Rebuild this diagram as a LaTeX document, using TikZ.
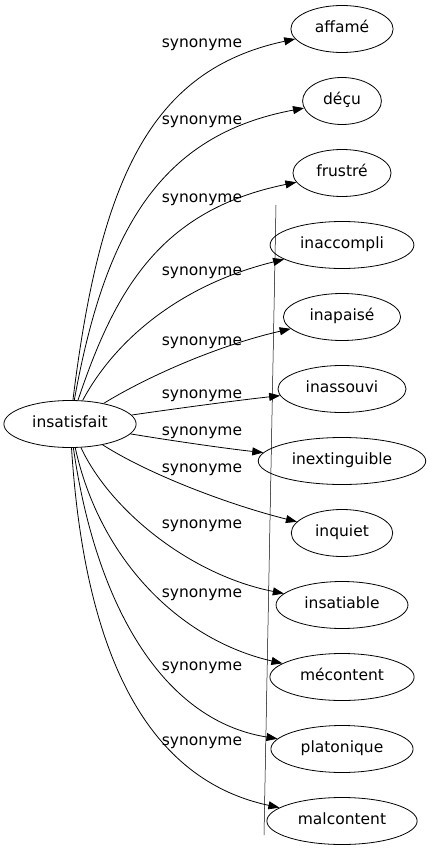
\documentclass[tikz,border=0pt]{standalone}
\usepackage{fontspec}
\setmainfont{DejaVu Sans}
\usetikzlibrary{shapes,arrows.meta}

\begin{document}
\begin{tikzpicture}[x=1pt,y=-1pt,
  word/.style={draw, ellipse, line width=0.8pt, minimum height=47pt, inner xsep=9pt,
    text height=11pt, text depth=3.5pt, font=\fontsize{15.5}{18}\selectfont},
  syn/.style={anchor=base, inner sep=0pt, font=\fontsize{15.5}{18}\selectfont},
  edge/.style={line width=0.8pt, -{Triangle[length=11pt,width=8pt]}}]
\useasboundingbox (0,0) rectangle (430,851);
% one row every 72px
\node [word] (ins) at (70,424) {insatisfait};
\node [word] (affame) at (342,29) {affamé};
\node [word] (decu) at (342,101) {déçu};
\node [word] (frustre) at (342,173) {frustré};
\node [word] (inaccompli) at (342,245) {inaccompli};
\node [word] (inapaise) at (342,317) {inapaisé};
\node [word] (inassouvi) at (342,389) {inassouvi};
\node [word] (inextinguible) at (342,461) {inextinguible};
\node [word] (inquiet) at (342,533) {inquiet};
\node [word] (insatiable) at (342,605) {insatiable};
\node [word] (mecontent) at (342,677) {mécontent};
\node [word] (platonique) at (342,749) {platonique};
\node [word] (malcontent) at (342,821) {malcontent};
% labels, baseline
\node [syn] (s1) at (202,48) {synonyme};
\node [syn] (s2) at (202,124) {synonyme};
\node [syn] (s3) at (202,202) {synonyme};
\node [syn] (s4) at (202,275) {synonyme};
\node [syn] (s5) at (202,345) {synonyme};
\node [syn] (s6) at (202,398) {synonyme};
\node [syn] (s7) at (202,435) {synonyme};
\node [syn] (s8) at (202,472) {synonyme};
\node [syn] (s9) at (202,528) {synonyme};
\node [syn] (s10) at (202,597) {synonyme};
\node [syn] (s11) at (202,670) {synonyme};
\node [syn] (s12) at (202,745) {synonyme};
% edges
\draw[edge] (ins) .. controls (100,180) and (150,70) .. (affame);
\draw[edge] (ins) .. controls (105,230) and (160,135) .. (decu);
\draw[edge] (ins) .. controls (115,290) and (160,210) .. (frustre);
\draw[edge] (ins) .. controls (115,340) and (180,285) .. (inaccompli);
\draw[edge] (ins) .. controls (150,375) and (220,345) .. (inapaise);
\draw[edge] (ins) .. controls (180,408) and (240,400) .. (inassouvi);
\draw[edge] (ins) .. controls (180,442) and (230,449) .. (inextinguible);
\draw[edge] (ins) .. controls (150,475) and (230,505) .. (inquiet);
\draw[edge] (ins) .. controls (110,510) and (190,575) .. (insatiable);
\draw[edge] (ins) .. controls (100,560) and (180,640) .. (mecontent);
\draw[edge] (ins) .. controls (95,600) and (160,720) .. (platonique);
\draw[edge] (ins) .. controls (85,660) and (150,780) .. (malcontent);
% thin stray rule
\draw[line width=0.5pt] (276,205) -- (264,835);
\end{tikzpicture}
\end{document}
